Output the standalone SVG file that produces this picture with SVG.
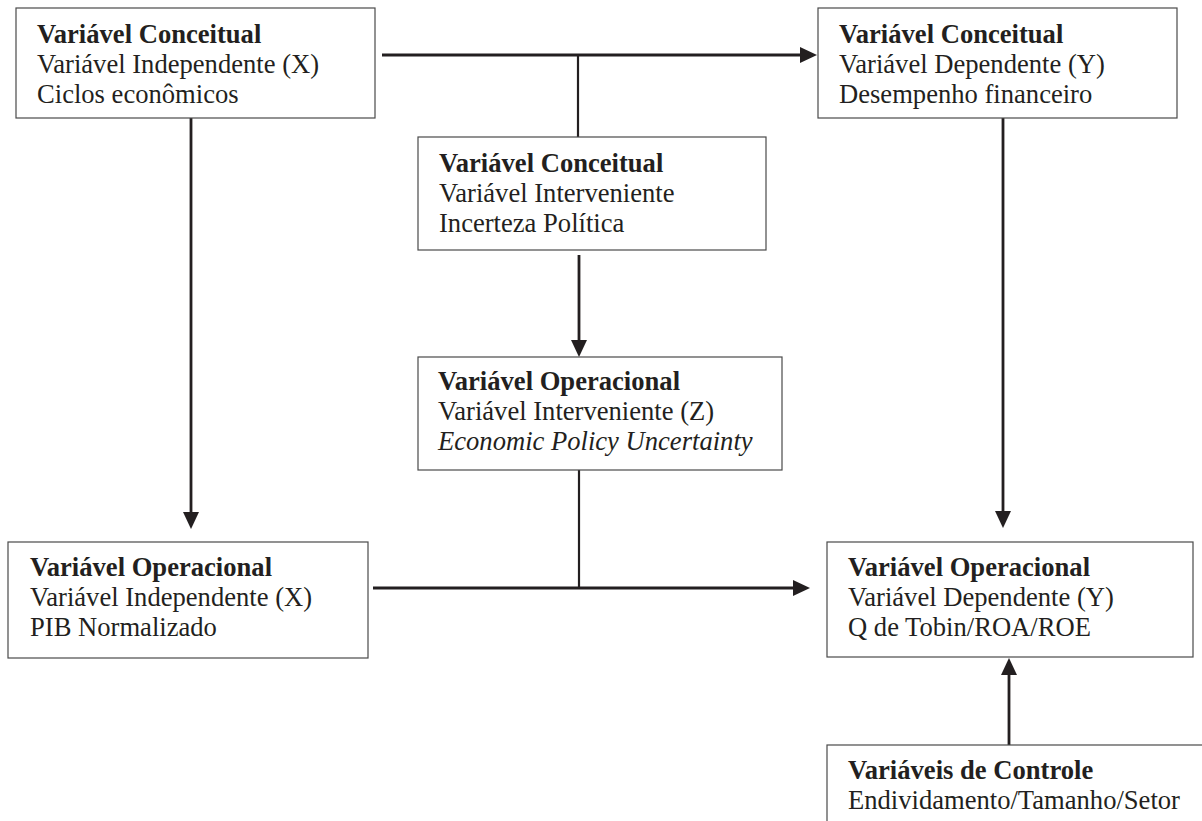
<svg xmlns="http://www.w3.org/2000/svg" width="1202" height="821" viewBox="0 0 1202 821">
  <style>
    .box { fill: #ffffff; stroke: #4a4a4a; stroke-width: 1.2; }
    .lbl { font-family: "Liberation Serif", "Times New Roman", serif; font-size: 26.6px; fill: #231f20; }
    .b { font-weight: bold; }
    .it { font-style: italic; }
    .wire { fill: none; stroke: #231f20; stroke-width: 2.8; }
    .thin { fill: none; stroke: #231f20; stroke-width: 2.2; }
  </style>
  <defs>
    <marker id="head" viewBox="0 0 18 18" refX="6" refY="9" markerWidth="18" markerHeight="18" markerUnits="userSpaceOnUse" orient="auto">
      <path d="M0,1 L17,9 L0,17 Z" fill="#231f20"/>
    </marker>
  </defs>
  <rect width="1202" height="821" fill="#ffffff"/>

  <!-- connectors -->
  <g id="connectors">
    <path class="wire" d="M382,55 H806" marker-end="url(#head)"/>
    <path class="thin" d="M578,55 V137"/>
    <path class="wire" d="M191,118 V518" marker-end="url(#head)"/>
    <path class="wire" d="M579,255 V346" marker-end="url(#head)"/>
    <path class="thin" d="M579,470 V588"/>
    <path class="wire" d="M373,588 H799" marker-end="url(#head)"/>
    <path class="wire" d="M1003,118 V517" marker-end="url(#head)"/>
    <path class="wire" d="M1009,745 V669" marker-end="url(#head)"/>
  </g>

  <!-- conceptual independent -->
  <g id="conceitual-x">
    <rect class="box" x="16" y="8" width="359" height="110"/>
    <text class="lbl b" x="37" y="43">Variável Conceitual</text>
    <text class="lbl" x="37" y="73">Variável Independente (X)</text>
    <text class="lbl" x="37" y="103">Ciclos econômicos</text>
  </g>

  <!-- conceptual dependent -->
  <g id="conceitual-y">
    <rect class="box" x="818" y="8" width="359" height="110"/>
    <text class="lbl b" x="839" y="43">Variável Conceitual</text>
    <text class="lbl" x="839" y="73">Variável Dependente (Y)</text>
    <text class="lbl" x="839" y="103">Desempenho financeiro</text>
  </g>

  <!-- conceptual intervening -->
  <g id="conceitual-z">
    <rect class="box" x="418" y="137" width="348" height="113"/>
    <text class="lbl b" x="439" y="172">Variável Conceitual</text>
    <text class="lbl" x="439" y="202">Variável Interveniente</text>
    <text class="lbl" x="439" y="232">Incerteza Política</text>
  </g>

  <!-- operational intervening -->
  <g id="operacional-z">
    <rect class="box" x="418" y="357" width="364" height="113"/>
    <text class="lbl b" x="438" y="390">Variável Operacional</text>
    <text class="lbl" x="438" y="420">Variável Interveniente (Z)</text>
    <text class="lbl it" x="438" y="450">Economic Policy Uncertainty</text>
  </g>

  <!-- operational independent -->
  <g id="operacional-x">
    <rect class="box" x="8" y="542" width="360" height="116"/>
    <text class="lbl b" x="30" y="576">Variável Operacional</text>
    <text class="lbl" x="30" y="606">Variável Independente (X)</text>
    <text class="lbl" x="30" y="636">PIB Normalizado</text>
  </g>

  <!-- operational dependent -->
  <g id="operacional-y">
    <rect class="box" x="827" y="542" width="366" height="115"/>
    <text class="lbl b" x="848" y="576">Variável Operacional</text>
    <text class="lbl" x="848" y="606">Variável Dependente (Y)</text>
    <text class="lbl" x="848" y="636">Q de Tobin/ROA/ROE</text>
  </g>

  <!-- control variables -->
  <g id="controle">
    <rect class="box" x="827" y="745" width="400" height="120"/>
    <text class="lbl b" x="848" y="779">Variáveis de Controle</text>
    <text class="lbl" x="848" y="809">Endividamento/Tamanho/Setor</text>
  </g>
</svg>
